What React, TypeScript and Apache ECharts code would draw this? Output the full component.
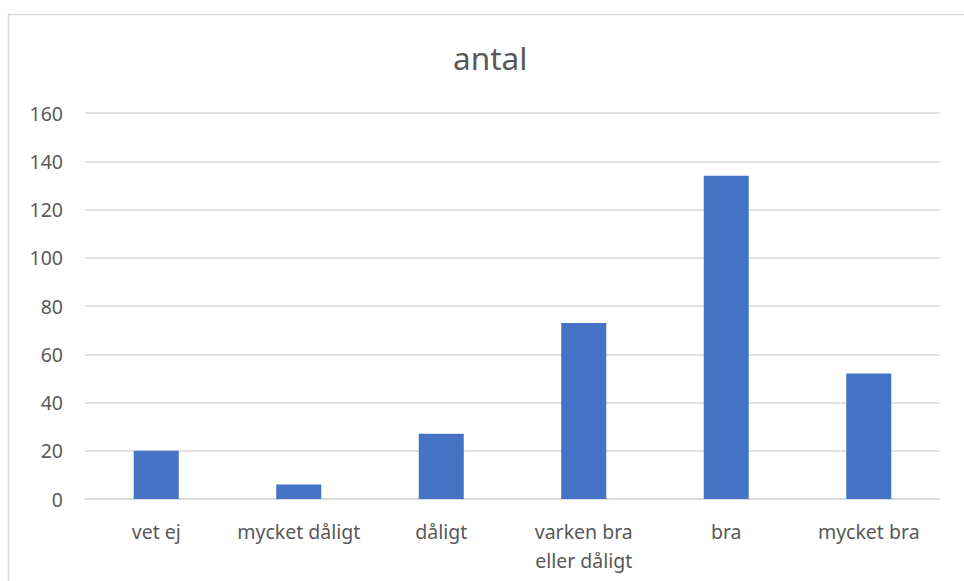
import React, { useEffect, useRef } from "react";
import * as echarts from "echarts";

const categories = ["vet ej", "mycket dåligt", "dåligt", "varken bra\neller dåligt", "bra", "mycket bra"];
const values = [20, 6, 27, 73, 134, 52];
const yMin = 0;
const yMax = 160;
const yStep = 20;
const titleText = "antal";

export default function App() {
  const ref = useRef<HTMLDivElement>(null);
  useEffect(() => {
    if (!ref.current) return;
    const chart = echarts.init(ref.current, undefined, { renderer: "svg" });
    const font = "Noto Sans";
    chart.setOption({
      animation: false,
      backgroundColor: "#ffffff",
      title: {
        text: titleText,
        left: 448,
        top: 36,
        textStyle: { fontFamily: font, fontSize: 31.5, fontWeight: "normal", color: "#595959" },
      },
      graphic: [
        {
          type: "rect",
          shape: { x: 8.5, y: 14.5, width: 1000, height: 700 },
          style: { fill: "none", stroke: "#d9d9d9", lineWidth: 1.5 },
          silent: true,
        },
      ],
      grid: { left: 85, right: 24, top: 113, bottom: 82 },
      xAxis: {
        type: "category",
        data: categories,
        axisLine: { lineStyle: { color: "#d9d9d9", width: 1.5 } },
        axisTick: { show: false },
        axisLabel: {
          interval: 0,
          margin: 18,
          fontFamily: font,
          fontSize: 19.5,
          lineHeight: 29,
          color: "#595959",
        },
      },
      yAxis: {
        type: "value",
        min: yMin,
        max: yMax,
        interval: yStep,
        axisLine: { show: false },
        axisTick: { show: false },
        splitLine: { lineStyle: { color: "#d9d9d9", width: 1.5 } },
        axisLabel: { margin: 22, fontFamily: font, fontSize: 19.5, color: "#595959" },
      },
      series: [
        {
          type: "bar",
          data: values,
          barWidth: "31.6%",
          itemStyle: { color: "#4472c4" },
        },
      ],
    });
    return () => chart.dispose();
  }, []);
  return <div ref={ref} style={{ position: "fixed", left: 0, top: 0, width: 964, height: 581 }} />;
}
